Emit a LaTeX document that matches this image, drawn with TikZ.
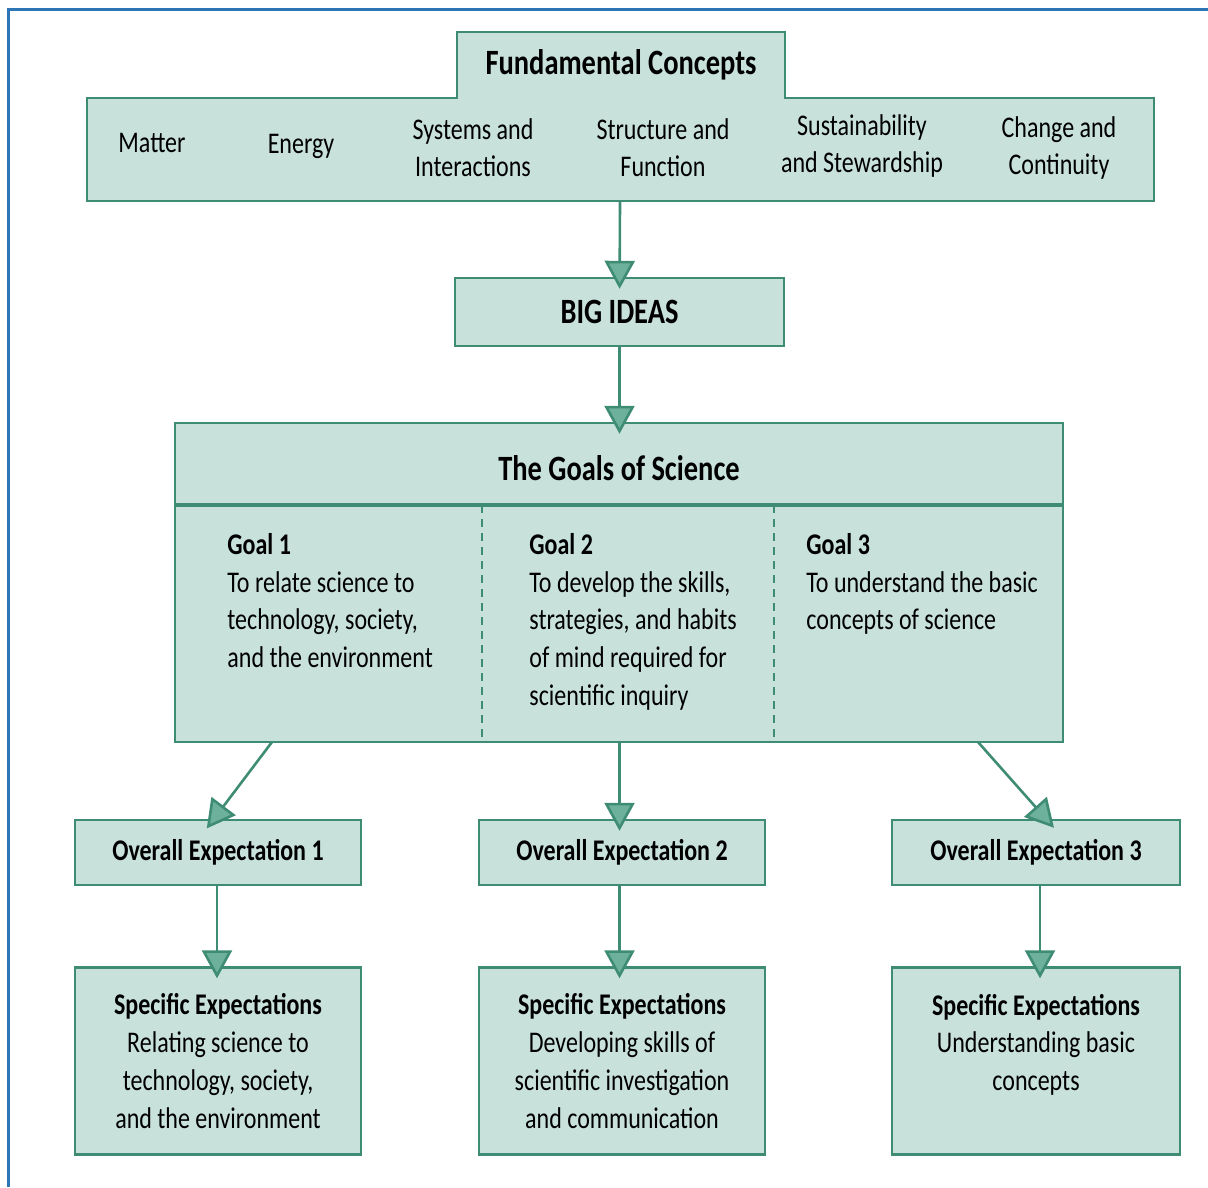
\documentclass[tikz,border=0pt]{standalone}
\usepackage{fontspec}
\setmainfont{Carlito}[FakeStretch=0.8]
\usetikzlibrary{arrows.meta,positioning}
\definecolor{boxfill}{HTML}{C8E1DB}
\definecolor{boxline}{HTML}{3F8C74}
\definecolor{tipfill}{HTML}{6DB19D}
\definecolor{framecol}{HTML}{2E75B6}

\begin{document}
\begin{tikzpicture}[x=0.5pt,y=-0.5pt,
    box/.style={draw=boxline,fill=boxfill,line width=1.2pt,inner sep=0pt},
    title/.style={font=\fontsize{17.8}{20}\selectfont\bfseries},
    item/.style={font=\fontsize{15}{18.5}\selectfont,align=center,inner sep=0pt},
    goaltext/.style={font=\fontsize{15}{18.85}\selectfont,align=left,anchor=north west,inner sep=0pt},
    flow/.style={draw=boxline,line width=1.3pt,-{Triangle[width=15pt,length=14pt,fill=tipfill]},shorten >=-6pt}]
    \useasboundingbox (0,0) rectangle (1208,1187);
    \draw[framecol,line width=1.5pt] (8,1187) -- (8,10) -- (1208,10);

    \draw[box] (87,98) -- (457,98) -- (457,32) -- (785,32) -- (785,98) -- (1154,98)
        -- (1154,201) -- (87,201) -- cycle;
    \coordinate (fcb) at (620,201);
    \node[title] (fc) at (621,65) {Fundamental Concepts};
    \node[item] (matter) at (152,143) {Matter};
    \node[item] (energy) at (301,146) {Energy};
    \node[item] (systems) at (473,148) {Systems and\\Interactions};
    \node[item] (structure) at (663,148) {Structure and\\Function};
    \node[item] (sustain) at (862,146) {Sustainability\\and Stewardship};
    \node[item] (change) at (1059,148) {Change and\\Continuity};

    \node[box,title,minimum width=164.5pt,minimum height=34pt] (big) at (619.5,312) {BIG IDEAS};

    \node[box,minimum width=444pt,minimum height=159.5pt] (goals) at (619,582.5) {};
    \draw[boxline,line width=2pt] (175,505) -- (1063,505);
    \draw[boxline,line width=0.8pt,dash pattern=on 4pt off 3pt] (482,505) -- (482,742);
    \draw[boxline,line width=0.8pt,dash pattern=on 4pt off 3pt] (774,505) -- (774,742);
    \node[title] (goalstitle) at (619,468) {The Goals of Science};
    \node[goaltext] (goal1) at (227,533) {\textbf{Goal 1}\\To relate science to\\technology, society,\\and the environment};
    \node[goaltext] (goal2) at (529,533) {\textbf{Goal 2}\\To develop the skills,\\strategies, and habits\\of mind required for\\scientific inquiry};
    \node[goaltext] (goal3) at (806,533) {\textbf{Goal 3}\\To understand the basic\\concepts of science};
    \coordinate (g1) at (272,742);
    \coordinate (g3) at (978,742);

    \node[box,item,font=\fontsize{15}{18.5}\selectfont\bfseries,minimum width=143pt,minimum height=32.5pt] (oe1) at (218,852.5) {Overall Expectation 1};
    \node[box,item,font=\fontsize{15}{18.5}\selectfont\bfseries,minimum width=143pt,minimum height=32.5pt] (oe2) at (622,852.5) {Overall Expectation 2};
    \node[box,item,font=\fontsize{15}{18.5}\selectfont\bfseries,minimum width=144pt,minimum height=32.5pt] (oe3) at (1036,852.5) {Overall Expectation 3};

    \node[box,item,font=\fontsize{15}{18.85}\selectfont,minimum width=143pt,minimum height=93.5pt] (se1) at (218,1061)
        {\textbf{Specific Expectations}\\Relating science to\\technology, society,\\and the environment};
    \node[box,item,font=\fontsize{15}{18.85}\selectfont,minimum width=143pt,minimum height=93.5pt] (se2) at (622,1061)
        {\textbf{Specific Expectations}\\Developing skills of\\scientific investigation\\and communication};
    \node[box,item,font=\fontsize{15}{18.85}\selectfont,minimum width=144pt,minimum height=93.5pt] (se3) at (1036,1061)
        {\textbf{Specific Expectations}\\Understanding basic\\concepts\\\mbox{}};

    \draw[flow] (fcb) -- (big);
    \draw[flow] (big) -- (goals.north -| big);
    \draw[flow] (g1) -- ([xshift=-2pt]oe1.north);
    \draw[flow] (goals.south -| big) -- (oe2.north -| big);
    \draw[flow] (g3) -- ([xshift=5pt]oe3.north);
    \draw[flow] (oe1.south -| 217,0) -- (se1.north -| 217,0);
    \draw[flow] (oe2.south -| big) -- (se2.north -| big);
    \draw[flow] (oe3.south -| 1040,0) -- (se3.north -| 1040,0);
\end{tikzpicture}
\end{document}
